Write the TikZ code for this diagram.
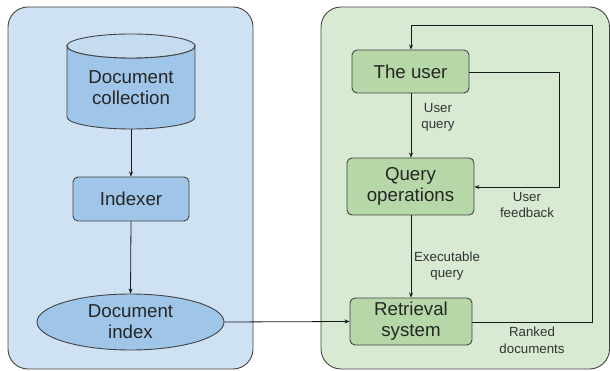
\documentclass[tikz,border=0pt]{standalone}
\usepackage{fontspec}
\setmainfont{Liberation Sans}
\usetikzlibrary{arrows.meta,shapes.geometric}
\definecolor{bluebg}{HTML}{CFE2F3}
\definecolor{bluenode}{HTML}{9FC5E8}
\definecolor{bluetop}{HTML}{C4DBF0}
\definecolor{greenbg}{HTML}{D9EAD3}
\definecolor{greennode}{HTML}{B6D7A8}
\definecolor{edgegray}{HTML}{434343}
\definecolor{labelgray}{HTML}{333333}
\tikzset{
  panel/.style={draw=edgegray, line width=0.9pt, rounded corners=20pt},
  boxnode/.style={draw=edgegray, line width=0.9pt, rounded corners=5pt, align=center,
    font=\fontsize{18.7}{21}\selectfont, text=black!85, inner sep=0pt},
  lbl/.style={align=center, font=\fontsize{13.3}{16.5}\selectfont, text=labelgray, inner sep=0pt},
  conn/.style={draw=black!90, line width=0.8pt, -{Stealth[length=5pt,width=4pt]}},
  plain/.style={draw=black!90, line width=0.8pt}
}
\begin{document}
\begin{tikzpicture}[x=1pt,y=-1pt]
\useasboundingbox (0,0) rectangle (610,371);
% panels
\path[panel, fill=bluebg] (8,7) rectangle (253,369);
\path[panel, fill=greenbg] (321,7) rectangle (609.5,369);
% cylinder
\path[draw=edgegray, line width=0.9pt, fill=bluenode]
  (67,46) -- (67,117) arc[start angle=180, end angle=0, x radius=64, y radius=12]
  -- (195,46) arc[start angle=0, end angle=180, x radius=64, y radius=12] -- cycle;
\path[draw=edgegray, line width=0.9pt, fill=bluetop] (131,46) ellipse[x radius=64, y radius=12];
\node[align=center, font=\fontsize{18.7}{21}\selectfont, text=black!85, inner sep=0pt] (coll) at (131,88) {Document\\collection};
\coordinate (collbot) at (131,129);
% indexer
\node[boxnode, fill=bluenode, minimum width=116pt, minimum height=44pt] (idx) at (131,199) {Indexer};
% document index
\node[ellipse, draw=edgegray, line width=0.9pt, fill=bluenode, minimum width=187pt, minimum height=56pt,
  align=center, font=\fontsize{18.7}{21}\selectfont, text=black!85, inner sep=0pt] (dix) at (130.5,322) {Document\\index};
% right nodes
\node[boxnode, fill=greennode, minimum width=117pt, minimum height=43pt] (user) at (410.5,71.5) {The user};
\node[boxnode, fill=greennode, minimum width=127pt, minimum height=57pt] (qop) at (410.5,186.5) {Query\\operations};
\node[boxnode, fill=greennode, minimum width=122pt, minimum height=47pt] (ret) at (411,321.5) {Retrieval\\system};
% connectors
\draw[conn] (collbot) -- (idx.north);
\draw[conn] (idx.south) -- (dix.north);
\draw[conn] (dix.east) -- (ret.west);
\draw[conn] (user.south -| 411,0) -- (qop.north -| 411,0);
\draw[conn] (qop.south -| 411,0) -- (ret.north -| 411,0);
\coordinate (fb1) at (559,72);
\coordinate (fb2) at (559,187);
\draw[conn] (user.east |- fb1) -- (fb1) -- (fb2) -- (qop.east |- fb2);
\coordinate (rk1) at (592,322);
\coordinate (rk2) at (592,25);
\coordinate (rk3) at (411,25);
\draw[conn] (ret.east |- rk1) -- (rk1) -- (rk2) -- (rk3) -- (user.north -| rk3);
% labels
\node[lbl] (l1) at (438,117.5) {User\\query};
\node[lbl] (l2) at (447,266) {Executable\\query};
\node[lbl] (l3) at (527,205) {User\\feedback};
\node[lbl] (l4) at (532,340) {Ranked\\documents};
\end{tikzpicture}
\end{document}
